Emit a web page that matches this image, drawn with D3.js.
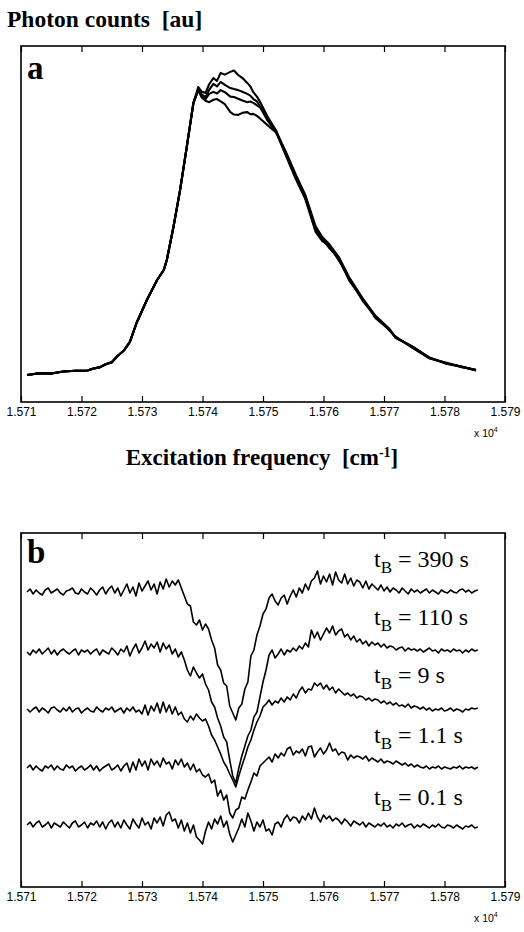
<!DOCTYPE html>
<html><head><meta charset="utf-8">
<script src="https://cdn.jsdelivr.net/npm/d3@7"></script>
<style>body{margin:0;background:#fff}</style>
</head><body>
<svg id="c" width="524" height="932"></svg>
<script>
// ---------- DATA ----------
const xTicks = [1.571,1.572,1.573,1.574,1.575,1.576,1.577,1.578,1.579];

// Panel a: photon counts [au], four overlapping spectra
const riseF = [1.5711,1.5713,1.5715,1.5717,1.5719,1.5721,1.5722,1.5723,1.5724,1.5725,1.5726,1.5727,1.5728,1.57291,1.57308,1.57325,1.57336,1.57341,1.57352,1.57363,1.57374,1.57385];
const riseV = [6.7,7.2,7.1,7.7,7.9,8.0,8.6,8.9,9.8,10.4,12.3,13.8,16.3,21.8,28.5,34.3,37.2,40.1,49.7,60.5,73.0,85.8];
const peakF = [1.57393,1.57399,1.57405,1.57411,1.57418,1.57424,1.57430,1.57437,1.57446,1.57452,1.57459,1.57466,1.57474,1.57479,1.57484,1.57490,1.57496,1.57507];
const peakA = [90.4,89.0,88.7,91.2,93.0,92.2,94.5,94.0,94.8,95.2,93.9,93.0,91.6,90.6,88.9,87.6,85.8,82.0];
const peakB = [89.5,88.2,87.5,89.6,91.3,90.6,91.9,91.0,90.1,89.8,89.5,89.0,88.4,87.9,86.9,86.2,84.6,81.1];
const peakC = [89.5,87.6,86.9,88.4,89.0,88.5,89.5,88.9,87.6,87.5,87.0,86.5,86.0,86.2,85.8,85.1,84.3,80.8];
const peakD = [89.5,87.3,86.4,86.0,86.7,86.9,86.2,85.4,83.1,82.4,82.3,82.9,83.1,82.5,82.6,82.0,81.1,79.4];
const fallF = [1.57521,1.57537,1.57554,1.57570,1.57587,1.57598,1.57610,1.57626,1.57643,1.57665,1.57686,1.57709,1.57719,1.57747,1.57775,1.57802,1.57830,1.57852];
const fallA = [77.9,71.2,64.2,58.4,48.8,45.9,43.9,40.1,34.3,28.5,23.5,19.8,17.7,14.8,11.6,10.2,9.0,8.1];
const fallB = [77.9,71.6,64.8,58.0,49.5,46.3,43.5,40.4,34.0,28.8,23.2,19.9,17.5,14.9,11.8,10.1,9.1,8.0];
const fallC = [77.6,70.8,63.7,57.8,48.3,45.6,44.3,39.8,34.6,28.2,23.7,19.6,17.9,14.6,11.5,10.3,8.9,8.2];
const fallD = [77.3,71.9,65.0,59.0,49.9,46.8,44.6,40.8,34.9,28.9,23.9,20.1,17.6,15.0,11.7,10.0,9.0,8.1];

// Panel b: hole-burning difference spectra, sampled on a regular grid
const bStart = 1.5711, bStep = 0.00005;
const tbLabels = ["390 s","110 s","9 s","1.1 s","0.1 s"];
const bOffsets = [295,235,177,119,62];
const trace390 = [0,3,-2,2,-1,-3,2,4,-1,1, 3,-1,-3,1,2,4,-1,-2,3,0, -2,4,1,-3,2,5,-2,3,6,-1, 4,-4,2,8,-1,5,-4,9,1,6,
 11,2,8,-2,10,3,13,5,11,7, 12,4,-4,-12,-14,-30,-33,-28,-38,-32, -37,-48,-56,-73,-78,-91,-94,-114,-121,-128,
 -116,-112,-97,-90,-64,-58,-43,-34,-22,-17, -6,-2,-9,-13,-6,-3,-12,-4,2,-5, 4,-1,8,2,11,14,21,8,16,10,
 18,7,20,12,9,18,8,14,6,12, 10,4,11,3,8,5,2,7,1,5, 0,4,2,-1,4,1,-2,3,0,2, -1,1,3,-1,2,0,-2,2,0,-1, 2,0,-1,2,3,0,2,-1,1,2];
const trace110 = [0,-3,2,-1,3,-2,1,4,-2,2, -3,1,3,0,-2,1,3,-3,2,0, 2,-2,1,3,-3,2,0,-2,4,1, -3,3,0,6,-4,3,8,-1,4,11,
 2,8,4,10,0,9,3,7,-2,3, -5,0,-8,-18,-24,-15,-21,-26,-22,-32, -38,-50,-55,-66,-74,-85,-90,-108,-124,-131,
 -116,-104,-94,-84,-78,-65,-60,-45,-30,-18, -3,2,-6,-2,3,-3,2,0,4,1, 6,3,9,5,22,14,20,12,18,24,
 19,26,17,21,23,15,18,12,16,10, 13,8,11,6,10,7,9,5,8,4, 6,5,2,4,5,1,4,2,3,1, 3,0,2,4,1,2,-1,3,1,2, 0,3,1,2,-1,2,0,3,1,2];
const trace9 = [1,-2,1,3,-2,2,0,-3,2,3, 0,-2,2,-1,3,-2,1,2,-3,0, 2,-1,-2,3,0,-2,2,0,3,-2, 0,2,-3,2,-1,3,-2,0,-4,5,
 -5,4,-1,7,-3,8,-2,5,-4,3, -5,-2,-9,-12,-6,-10,-4,-8,-11,-9, -16,-25,-30,-37,-44,-52,-57,-64,-70,-77,
 -66,-56,-47,-37,-30,-20,-12,-6,3,6, 10,5,9,7,12,8,13,10,16,12, 19,23,17,21,20,27,24,27,21,25,
 20,23,17,21,18,15,17,14,16,12, 14,13,10,12,9,11,10,7,9,6, 8,5,7,4,5,3,6,2,4,3, 1,3,0,2,-1,1,0,2,-1,0, 2,-1,1,0,-2,1,0,2,1,2];
const trace1_1 = [0,3,-2,2,-1,-3,2,0,3,-2, 2,-1,-2,3,0,2,-3,0,2,-2, 0,3,-2,2,-3,0,2,4,-2,0, 3,-3,2,5,-4,6,-2,9,2,7,
 -2,9,3,7,1,10,4,6,-1,8, 3,9,1,5,-2,4,-4,-1,-7,-9, -6,-15,-12,-28,-22,-32,-27,-45,-50,-42,
 -40,-29,-31,-22,-14,-5,-8,2,5,8, 11,6,14,10,15,12,19,21,13,17, 15,19,12,21,22,11,16,20,14,18,
 25,17,19,13,16,15,8,13,10,12, 11,9,12,7,10,8,6,9,5,7, 6,4,7,5,3,5,2,4,1,3, 1,0,2,-1,1,0,2,-1,1,0, -1,1,0,2,-1,1,0,1,-1,1];
const trace0_1 = [0,3,-2,2,4,-2,0,3,-3,2, 0,-2,3,0,-3,2,4,-2,0,3, -3,2,0,4,-2,3,-4,2,5,-2, 3,-3,5,0,-4,6,1,-3,7,0,
 3,-4,7,2,8,-1,10,13,4,6, -3,5,-6,2,-8,0,-12,-15,-19,-6, 3,-4,6,1,9,-2,4,-9,-17,-10,
 -3,6,-2,12,4,-6,3,-2,5,-6, -4,-10,1,3,-2,6,10,4,8,7, 2,9,5,12,6,17,8,3,10,6,
 9,4,7,5,1,6,3,-1,4,2, 0,3,-2,2,0,-2,1,-1,2,-2, 0,-3,1,-1,2,-2,0,1,-3,0, -2,1,-1,-3,0,-2,1,-2,-3,0, -1,-3,0,-2,-4,-1,-2,0,-3,-2];
const bTraces = [trace390, trace110, trace9, trace1_1, trace0_1];

// ---------- DRAW ----------
const svg = d3.select('#c');
const serif = '"Liberation Serif","Times New Roman",serif';
const sans = '"Liberation Sans",Arial,sans-serif';
const x = d3.scaleLinear().domain([1.571,1.579]).range([21,505]);

function panel(top, bottom, label, labelY, ydom, yrange){
  const g = svg.append('g');
  const y = d3.scaleLinear().domain(ydom).range(yrange);
  g.append('g').attr('transform',`translate(0,${bottom})`)
    .call(d3.axisBottom(x).tickValues(xTicks).tickSize(-6).tickPadding(5).tickFormat(d3.format('.3f')))
    .call(a=>{a.select('.domain').remove();
      a.selectAll('line').attr('stroke','#000').attr('stroke-width',1.2);
      a.selectAll('text').attr('font-family',sans).attr('font-size',12).attr('fill','#000');});
  g.append('g').attr('transform',`translate(0,${top})`)
    .call(d3.axisTop(x).tickValues(xTicks).tickSize(-6).tickFormat(''))
    .call(a=>{a.select('.domain').remove(); a.selectAll('line').attr('stroke','#000').attr('stroke-width',1.2);});
  g.append('rect').attr('x',x(1.571)).attr('y',top).attr('width',x(1.579)-x(1.571)).attr('height',bottom-top)
    .attr('fill','none').attr('stroke','#000').attr('stroke-width',1.6);
  g.append('text').attr('x',27).attr('y',labelY).text(label)
    .attr('font-family',serif).attr('font-weight','bold').attr('font-size',33);
  const xt = g.append('text').attr('x',474).attr('y',bottom+35).attr('font-family',sans).attr('font-size',10.5);
  xt.append('tspan').text('x 10');
  xt.append('tspan').text('4').attr('font-size',7).attr('dy',-5);
  return {g,y};
}

// Title
svg.append('text').attr('x',7).attr('y',27).text('Photon counts  [au]')
  .attr('font-family',serif).attr('font-weight','bold').attr('font-size',23.5).style('white-space','pre');

// Panel a
const pa = panel(46, 402, 'a', 79, [0,100], [398,54]);
const lineA = d3.line().x(d=>x(d[0])).y(d=>pa.y(d[1]));
const peaks = [peakA,peakB,peakC,peakD];
const falls = [fallA,fallB,fallC,fallD];
peaks.forEach((pk,k)=>{
  const pts = riseF.map((f,i)=>[f,riseV[i]])
    .concat(peakF.map((f,i)=>[f,pk[i]]))
    .concat(fallF.map((f,i)=>[f,falls[k][i]]));
  pa.g.append('path').attr('d',lineA(pts)).attr('fill','none').attr('stroke','#000')
    .attr('stroke-width',2.1).attr('stroke-linejoin','round');
});

// Axis title a
const xl = svg.append('text').attr('x',262).attr('y',465).attr('text-anchor','middle')
  .attr('font-family',serif).attr('font-weight','bold').attr('font-size',23).style('white-space','pre');
xl.append('tspan').text('Excitation frequency  [cm');
xl.append('tspan').text('-1').attr('font-size',14).attr('dy',-8);
xl.append('tspan').text(']').attr('dy',8);

// Panel b
const pb = panel(533, 887, 'b', 563, [0,354], [887,533]);
const lineB = d3.line().x(d=>x(d[0])).y(d=>pb.y(d[1]));
bTraces.forEach((tr,k)=>{
  const pts = tr.map((v,i)=>[bStart+i*bStep, bOffsets[k]+v]);
  pb.g.append('path').attr('d',lineB(pts)).attr('fill','none').attr('stroke','#000')
    .attr('stroke-width',1.6).attr('stroke-linejoin','round');
});
const labelBase = [567,625,683,743,805];
tbLabels.forEach((t,k)=>{
  const tx = pb.g.append('text').attr('x',374).attr('y',labelBase[k])
    .attr('font-family',serif).attr('font-size',24).style('white-space','pre');
  tx.append('tspan').text('t');
  tx.append('tspan').text('B').attr('font-size',17).attr('dy',6);
  tx.append('tspan').text(' = '+t).attr('dy',-6);
});
</script>
</body></html>
